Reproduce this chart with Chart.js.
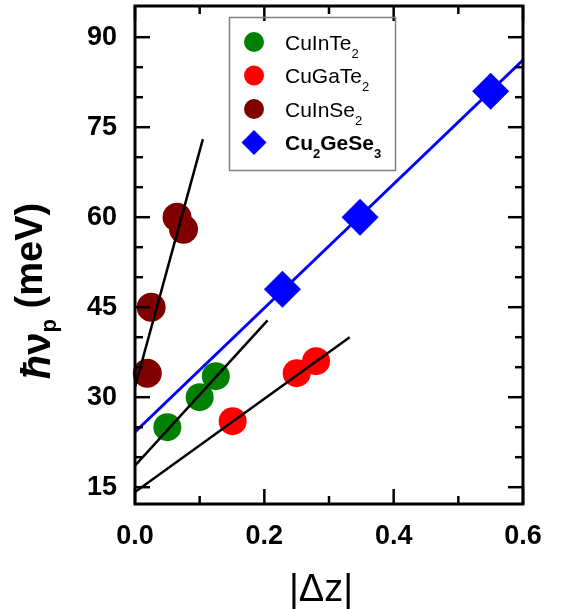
<!DOCTYPE html>
<html>
<head>
<meta charset="utf-8">
<script src="https://cdn.jsdelivr.net/npm/chart.js@4.4.0/dist/chart.umd.min.js"></script>
<style>
  html, body { margin: 0; padding: 0; background: #fff; }
  #wrap { width: 563px; height: 609px; }
</style>
</head>
<body>
<div id="wrap"><canvas id="chart" width="563" height="609"></canvas></div>
<script>
// values
const cuInTeX = [0.05, 0.1, 0.125];
const cuInTeY = [25, 30, 33.5];
const cuGaTeX = [0.151, 0.25, 0.28];
const cuGaTeY = [26, 34, 36];
const cuInSeX = [0.019, 0.025, 0.065, 0.075];
const cuInSeY = [34, 45, 60, 58];
const cuGeSeX = [0.228, 0.348, 0.55];
const cuGeSeY = [48, 60, 81];

// end points of the linear fits
const fitInTeX = [0, 0.205];
const fitInTeY = [18.6, 42.8];
const fitGaTeX = [0, 0.332];
const fitGaTeY = [14.2, 40];
const fitInSeX = [0, 0.105];
const fitInSeY = [31.7, 73];
const fitGeSeX = [0, 0.6];
const fitGeSeY = [24.2, 86.2];

const xTicks = [0, 0.2, 0.4, 0.6];
const xMinorTicks = [0.1, 0.3, 0.5];
const yTicks = [15, 30, 45, 60, 75, 90];
const yMinorTicks = [20, 25, 35, 40, 50, 55, 65, 70, 80, 85];

const FONT = '"Liberation Sans", Arial, sans-serif';

const pts = (xs, ys) => xs.map((x, i) => ({ x, y: ys[i] }));

function markers(label, xs, ys, color, style, radius, legendRadius, order) {
  return {
    label, data: pts(xs, ys), backgroundColor: color, borderColor: color,
    pointStyle: style, pointRadius: radius, pointHoverRadius: radius, pointBorderWidth: 0,
    showLine: false, clip: false, order, legend: true, legendRadius
  };
}

function fitLine(xs, ys, color, width, order) {
  return {
    data: pts(xs, ys), borderColor: color, borderWidth: width, showLine: true,
    pointRadius: 0, pointHoverRadius: 0, fill: false, order
  };
}

// 'Cu_2GeSe_3' -> pieces with subscripts
function richParts(label) {
  const parts = [];
  label.split(/(_\w)/).forEach(s => {
    if (!s) return;
    if (s[0] === '_') parts.push([s.slice(1), true]);
    else parts.push([s, false]);
  });
  return parts;
}

const frameTicks = {
  id: 'frameTicks',
  afterDatasetsDraw(chart) {
    const { ctx, chartArea: a, scales: { x, y } } = chart;
    ctx.save();
    ctx.strokeStyle = '#000';
    ctx.lineWidth = 2.5;
    const seg = (x1, y1, x2, y2) => { ctx.beginPath(); ctx.moveTo(x1, y1); ctx.lineTo(x2, y2); ctx.stroke(); };
    const xt = (v, len) => { const p = x.getPixelForValue(v); seg(p, a.bottom, p, a.bottom - len); seg(p, a.top, p, a.top + len); };
    const yt = (v, len) => { const p = y.getPixelForValue(v); seg(a.left, p, a.left + len, p); seg(a.right, p, a.right - len, p); };
    xTicks.forEach(v => xt(v, 15));
    xMinorTicks.forEach(v => xt(v, 8));
    yTicks.forEach(v => yt(v, 15));
    yMinorTicks.forEach(v => yt(v, 8));
    ctx.lineWidth = 3;
    ctx.strokeRect(a.left, a.top, a.right - a.left, a.bottom - a.top);
    ctx.restore();
  }
};

const axisTitles = {
  id: 'axisTitles',
  afterDraw(chart) {
    const { ctx, chartArea: a } = chart;
    ctx.save();
    ctx.fillStyle = '#000';
    ctx.textBaseline = 'alphabetic';

    // x title
    ctx.font = '38px ' + FONT;
    ctx.textAlign = 'center';
    ctx.fillText('|\u0394z|', (a.left + a.right) / 2 - 8, 601);

    // y title, rotated
    const parts = [
      ['\u0127', 'italic bold 40px ' + FONT, 8],
      ['\u03bd', 'bold 40px ' + FONT, 8],
      ['p', 'bold 22px ' + FONT, 14],
      [' (meV)', 'bold 38px ' + FONT, 0]
    ];
    let total = 0;
    parts.forEach(p => { ctx.font = p[1]; total += ctx.measureText(p[0]).width; });
    ctx.translate(42, 291);
    ctx.rotate(-Math.PI / 2);
    ctx.textAlign = 'left';
    let cx = -total / 2;
    parts.forEach(p => {
      ctx.font = p[1];
      ctx.fillText(p[0], cx, p[2]);
      cx += ctx.measureText(p[0]).width;
    });
    ctx.restore();
  }
};

const boxLegend = {
  id: 'boxLegend',
  afterDraw(chart) {
    const ctx = chart.ctx;
    ctx.save();
    ctx.strokeStyle = '#808080';
    ctx.lineWidth = 1.5;
    ctx.strokeRect(229.5, 17.5, 166, 153);
    const items = chart.data.datasets.filter(d => d.legend);
    items.forEach((d, i) => {
      const cy = 42 + i * 33.5;
      ctx.fillStyle = d.backgroundColor;
      ctx.strokeStyle = d.backgroundColor;
      Chart.helpers.drawPoint(ctx, { pointStyle: d.pointStyle, radius: d.legendRadius, rotation: 0, borderWidth: 0 }, 254, cy);
      const bold = d.label.startsWith('Cu_2');
      ctx.fillStyle = '#000';
      ctx.textAlign = 'left';
      ctx.textBaseline = 'alphabetic';
      let tx = 285;
      richParts(d.label).forEach(([t, sub]) => {
        ctx.font = (bold ? 'bold ' : '') + (sub ? 13 : 21) + 'px ' + FONT;
        ctx.fillText(t, tx, cy + 7.5 + (sub ? 8 : 0));
        tx += ctx.measureText(t).width;
      });
    });
    ctx.restore();
  }
};

const tickFont = { family: FONT, size: 27, weight: 'bold' };

new Chart(document.getElementById('chart'), {
  type: 'scatter',
  data: {
    datasets: [
      markers('CuInTe_2', cuInTeX, cuInTeY, '#008000', 'circle', 14, 10, 2),
      markers('CuGaTe_2', cuGaTeX, cuGaTeY, '#ff0000', 'circle', 14, 10, 2),
      markers('CuInSe_2', cuInSeX, cuInSeY, '#800000', 'circle', 14.5, 10, 2),
      markers('Cu_2GeSe_3', cuGeSeX, cuGeSeY, '#0000ff', 'rectRot', 18.5, 12.5, 0),
      fitLine(fitInTeX, fitInTeY, '#000', 2.5, 1),
      fitLine(fitGaTeX, fitGaTeY, '#000', 2.5, 1),
      fitLine(fitInSeX, fitInSeY, '#000', 2.5, 1),
      fitLine(fitGeSeX, fitGeSeY, '#0000ff', 3, 3)
    ]
  },
  options: {
    responsive: false,
    animation: false,
    devicePixelRatio: 1,
    events: [],
    layout: { autoPadding: false, padding: { top: 6, right: 40, left: 0, bottom: 0 } },
    plugins: { legend: { display: false }, tooltip: { enabled: false } },
    scales: {
      x: {
        type: 'linear', min: 0, max: 0.6,
        grid: { display: false }, border: { display: false },
        afterBuildTicks: s => { s.ticks = xTicks.map(v => ({ value: v })); },
        afterFit: s => { s.height = 105; s.paddingLeft = 0; s.paddingRight = 0; },
        ticks: { color: '#000', font: tickFont, padding: 8, maxRotation: 0, autoSkip: false,
                 callback: v => Number(v).toFixed(1) }
      },
      y: {
        type: 'linear', min: 12.2, max: 95.2,
        grid: { display: false }, border: { display: false },
        afterBuildTicks: s => { s.ticks = yTicks.map(v => ({ value: v })); },
        afterFit: s => { s.width = 135; s.paddingTop = 0; s.paddingBottom = 0; },
        ticks: { color: '#000', font: { ...tickFont, lineHeight: 0.3 }, padding: 10, autoSkip: false }
      }
    }
  },
  plugins: [frameTicks, axisTitles, boxLegend]
});
</script>
</body>
</html>
